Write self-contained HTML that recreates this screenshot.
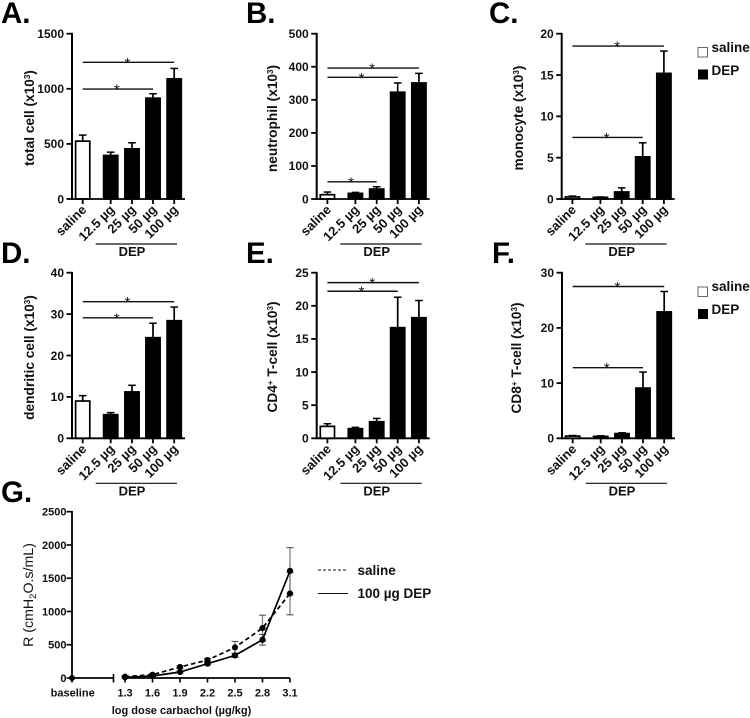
<!DOCTYPE html>
<html>
<head>
<meta charset="utf-8">
<title>DEP dose response panels</title>
<style>
html,body{margin:0;padding:0;background:#fff;}
svg{display:block;}
text{font-family:"Liberation Sans",Arial,sans-serif;fill:#111;}
.tick{font-size:12px;font-weight:bold;}
.xlab{font-size:13px;font-weight:bold;}
.leg{font-size:13.5px;font-weight:bold;}
.title{font-size:13.7px;font-weight:bold;}
.letter{font-size:29.5px;font-weight:bold;fill:#000;}
.g{font-size:11px;font-weight:bold;}
</style>
</head>
<body>
<svg id="chart" xmlns="http://www.w3.org/2000/svg" width="750" height="718" viewBox="0 0 750 718">
<rect width="750" height="718" fill="#fff"/>
<text class="letter" x="1" y="23">A.</text>
<text class="letter" x="246" y="23">B.</text>
<text class="letter" x="489" y="23">C.</text>
<text class="letter" x="1" y="263">D.</text>
<text class="letter" x="246" y="263">E.</text>
<text class="letter" x="492" y="263">F.</text>
<text class="letter" x="1" y="502">G.</text>
<g>
<rect x="698" y="47.5" width="9.5" height="9.5" fill="#fff" stroke="#666" stroke-width="1"/>
<text class="leg" x="711.5" y="52">saline</text>
<rect x="698" y="69.5" width="10" height="10" fill="#000"/>
<text class="leg" x="711.5" y="75">DEP</text>
</g>
<g>
<rect x="698" y="287" width="9.5" height="9.5" fill="#fff" stroke="#666" stroke-width="1"/>
<text class="leg" x="711.5" y="291">saline</text>
<rect x="698" y="309" width="10" height="10" fill="#000"/>
<text class="leg" x="711.5" y="314">DEP</text>
</g>
<g>
<line x1="318" x2="348" y1="570" y2="570" stroke="#111" stroke-width="1" stroke-dasharray="3 2"/>
<text class="leg" x="357.5" y="575">saline</text>
<line x1="318" x2="348" y1="593.5" y2="593.5" stroke="#111" stroke-width="1"/>
<text class="leg" x="357.5" y="598">100 µg DEP</text>
</g>
</svg>
<script>
const categories = ['saline', '12.5 µg', '25 µg', '50 µg', '100 µg'];

const ticksA = [0, 500, 1000, 1500];
const valuesA = [525, 395, 455, 915, 1090];
const errorsA = [55, 30, 55, 40, 95];
const sigFromA = [0, 0];
const sigToA = [4, 3];
const sigLevelA = [1240, 998];

const ticksB = [0, 100, 200, 300, 400, 500];
const valuesB = [13, 17, 30, 323, 351];
const errorsB = [8, 3, 7, 28, 29];
const sigFromB = [0, 0, 0];
const sigToB = [4, 3, 2];
const sigLevelB = [396, 368, 52];

const ticksC = [0, 5, 10, 15, 20];
const valuesC = [0.25, 0.2, 0.85, 5.1, 15.2];
const errorsC = [0.1, 0.05, 0.5, 1.7, 2.7];
const sigFromC = [0, 0];
const sigToC = [4, 3];
const sigLevelC = [18.5, 7.45];

const ticksD = [0, 10, 20, 30, 40];
const valuesD = [9, 5.7, 11.2, 24.3, 28.4];
const errorsD = [1.3, 0.5, 1.6, 3.5, 3.3];
const sigFromD = [0, 0];
const sigToD = [4, 3];
const sigLevelD = [33, 29.1];

const ticksE = [0, 5, 10, 15, 20, 25];
const valuesE = [1.8, 1.45, 2.5, 16.7, 18.2];
const errorsE = [0.4, 0.2, 0.5, 4.6, 2.6];
const sigFromE = [0, 0];
const sigToE = [4, 3];
const sigLevelE = [23.5, 22.2];

const ticksF = [0, 10, 20, 30];
const valuesF = [0.4, 0.35, 0.85, 9.1, 22.9];
const errorsF = [0.1, 0.1, 0.15, 2.9, 3.7];
const sigFromF = [0, 0];
const sigToF = [4, 3];
const sigLevelF = [27.5, 12.8];

const doseLabels = ['1.3', '1.6', '1.9', '2.2', '2.5', '2.8', '3.1'];
const doses = [1.3, 1.6, 1.9, 2.2, 2.5, 2.8, 3.1];
const ticksG = [0, 500, 1000, 1500, 2000, 2500];
const salineResistance = [20, 50, 165, 270, 460, 750, 1270];
const salineResistanceError = [10, 15, 20, 25, 90, 195, 320];
const depResistance = [10, 30, 90, 215, 340, 575, 1610];
const depResistanceError = [8, 10, 15, 20, 30, 80, 350];
const baselineResistance = 0;

const svg = document.getElementById('chart');
const NS = 'http://www.w3.org/2000/svg';

function make(tag, parent, props) {
  const el = document.createElementNS(NS, tag);
  for (const k in props) el.setAttribute(k, props[k]);
  parent.appendChild(el);
  return el;
}

function drawBarPanel(key, axisX, topY, bottomY, titleX, titleY, titleHtml, ticks, values, errors, sigFrom, sigTo, sigLevel) {
  const panel = make('g', svg, {});
  
  

  const maxV = ticks[ticks.length - 1];
  const yScale = v => bottomY - (v / maxV) * (bottomY - topY);
  const offsets = [10.7, 38.7, 60, 81, 102.2];
  const xScale = i => axisX + offsets[i];
  const axisEnd = axisX + 113;

  ticks.forEach(t => {
    const tk = make('line', panel, {x1: axisX - 5.5, x2: axisX, y1: yScale(t), y2: yScale(t), stroke: '#000', 'stroke-width': 1.8});
    
    
    const lb = make('text', panel, {x: axisX - 8, y: yScale(t) + 4.3, 'text-anchor': 'end', class: 'tick'});
    
    
    lb.textContent = t;
  });

  values.forEach((v, i) => {
    const cx = xScale(i);
    const e = make('line', panel, {x1: cx, x2: cx, y1: yScale(v), y2: yScale(v + errors[i]), stroke: '#000', 'stroke-width': 1.7});
    
    
    const cap = make('line', panel, {x1: cx - 3.8, x2: cx + 3.8, y1: yScale(v + errors[i]), y2: yScale(v + errors[i]), stroke: '#000', 'stroke-width': 1.5});
    
    
    const isSaline = i === 0;
    const bar = make('rect', panel, {
      x: cx - 7.1, y: yScale(v), width: 14.2, height: bottomY - yScale(v),
      fill: isSaline ? '#fff' : '#000', stroke: '#000', 'stroke-width': 1.7
    });
    
    
    const xt = make('line', panel, {x1: cx, x2: cx, y1: bottomY, y2: bottomY + 5, stroke: '#000', 'stroke-width': 1.8});
    
    
    const px = cx + 4.5, py = bottomY + 11.5;
    const xl = make('text', panel, {x: px, y: py, 'text-anchor': 'end', class: 'xlab', transform: 'rotate(-45 ' + px + ' ' + py + ')'});
    
    
    xl.textContent = categories[i];
  });

  const yAxis = make('line', panel, {x1: axisX, x2: axisX, y1: topY - 0.8, y2: bottomY + 1, stroke: '#000', 'stroke-width': 2});
  
  
  const xAxis = make('line', panel, {x1: axisX, x2: axisEnd, y1: bottomY, y2: bottomY, stroke: '#000', 'stroke-width': 1.8});
  
  

  sigLevel.forEach((lv, i) => {
    const x1 = xScale(sigFrom[i]);
    const x2 = xScale(sigTo[i]);
    const y = yScale(lv);
    const ln = make('line', panel, {x1: x1, x2: x2, y1: y, y2: y, stroke: '#111', 'stroke-width': 1.4});
    
    
    const st = make('text', panel, {x: (x1 + x2) / 2 - 1, y: y + 5.5, 'text-anchor': 'middle', style: 'font-size:15px'});
    
    
    st.textContent = '*';
  });

  const groupLine = make('line', panel, {x1: axisX + 23.7, x2: axisX + 105, y1: bottomY + 45, y2: bottomY + 45, stroke: '#111', 'stroke-width': 1.2});
  
  
  const groupText = make('text', panel, {x: axisX + 60, y: bottomY + 57, 'text-anchor': 'middle', class: 'xlab'});
  
  
  groupText.textContent = 'DEP';

  const title = make('text', panel, {x: titleX, y: titleY, 'text-anchor': 'middle', class: 'title', transform: 'rotate(-90 ' + titleX + ' ' + titleY + ')'});
  
  
  title.innerHTML = titleHtml;
}

const sup3 = '<tspan dy="-4" font-size="8">3</tspan><tspan dy="4">)</tspan>';
drawBarPanel('a', 72, 33.7, 199, 34, 118, 'total cell (x10' + sup3, ticksA, valuesA, errorsA, sigFromA, sigToA, sigLevelA);
drawBarPanel('b', 316.7, 33.7, 199, 277, 118.5, 'neutrophil (x10' + sup3, ticksB, valuesB, errorsB, sigFromB, sigToB, sigLevelB);
drawBarPanel('c', 561.7, 33.7, 199, 523, 118, 'monocyte (x10' + sup3, ticksC, valuesC, errorsC, sigFromC, sigToC, sigLevelC);
drawBarPanel('d', 72, 272.7, 438.3, 34, 357.5, 'dendritic cell (x10' + sup3, ticksD, valuesD, errorsD, sigFromD, sigToD, sigLevelD);
drawBarPanel('e', 316.7, 272.7, 438.3, 277, 357, 'CD4<tspan dy="-4" font-size="8">+</tspan><tspan dy="4"> T-cell (x10</tspan>' + sup3, ticksE, valuesE, errorsE, sigFromE, sigToE, sigLevelE);
drawBarPanel('f', 562, 272.7, 438.3, 521, 358, 'CD8<tspan dy="-4" font-size="8">+</tspan><tspan dy="4"> T-cell (x10</tspan>' + sup3, ticksF, valuesF, errorsF, sigFromF, sigToF, sigLevelF);

(function drawAirwayPanel() {
  const axisX = 72, topY = 511.7, bottomY = 678;
  const panel = make('g', svg, {});
  
  

  const maxV = ticksG[ticksG.length - 1];
  const yScale = v => bottomY - (v / maxV) * (bottomY - topY);
  const xScale = d => 125 + (d - 1.3) / 0.3 * 27.5;

  ticksG.forEach(t => {
    const tk = make('line', panel, {x1: axisX - 5.5, x2: axisX, y1: yScale(t), y2: yScale(t), stroke: '#000', 'stroke-width': 1.6});
    
    
    const lb = make('text', panel, {x: axisX - 5.5, y: yScale(t) + 4, 'text-anchor': 'end', class: 'g'});
    
    
    lb.textContent = t;
  });

  const yAxis = make('line', panel, {x1: axisX, x2: axisX, y1: topY - 0.8, y2: bottomY + 1, stroke: '#000', 'stroke-width': 1.8});
  
  
  const xAxisBase = make('line', panel, {x1: axisX, x2: 114, y1: bottomY, y2: bottomY, stroke: '#000', 'stroke-width': 1.8});
  
  
  const xAxisDose = make('line', panel, {x1: xScale(doses[0]) - 1, x2: xScale(doses[doses.length - 1]), y1: bottomY, y2: bottomY, stroke: '#000', 'stroke-width': 1.8});
  
  
  const breakTick = make('line', panel, {x1: 113.5, x2: 113.5, y1: bottomY - 4, y2: bottomY + 4.5, stroke: '#000', 'stroke-width': 1.6});
  
  
  const baseTick = make('line', panel, {x1: axisX, x2: axisX, y1: bottomY, y2: bottomY + 4.5, stroke: '#000', 'stroke-width': 1.6});
  
  
  const baseLabel = make('text', panel, {x: 72.7, y: 696.5, 'text-anchor': 'middle', class: 'g'});
  
  
  baseLabel.textContent = 'baseline';

  doses.forEach((d, i) => {
    const cx = xScale(d);
    const tk = make('line', panel, {x1: cx, x2: cx, y1: bottomY, y2: bottomY + 4.5, stroke: '#000', 'stroke-width': 1.6});
    
    
    const lb = make('text', panel, {x: cx, y: 696.5, 'text-anchor': 'middle', class: 'g'});
    
    
    lb.textContent = doseLabels[i];
  });

  function whiskers(values, errors, seriesName) {
    values.forEach((v, i) => {
      const cx = xScale(doses[i]);
      const hi = yScale(v + errors[i]);
      const lo = yScale(v - errors[i]);
      const w = make('line', panel, {x1: cx, x2: cx, y1: hi, y2: lo, stroke: '#777', 'stroke-width': 1.2});
      
      
      const c1 = make('line', panel, {x1: cx - 3.5, x2: cx + 3.5, y1: hi, y2: hi, stroke: '#444', 'stroke-width': 1});
      
      
      const c2 = make('line', panel, {x1: cx - 3.5, x2: cx + 3.5, y1: lo, y2: lo, stroke: '#444', 'stroke-width': 1});
      
      
    });
  }
  whiskers(salineResistance, salineResistanceError, 'saline');
  whiskers(depResistance, depResistanceError, 'dep');

  function series(values, seriesName, dash) {
    const pts = values.map((v, i) => xScale(doses[i]) + ',' + yScale(v)).join(' ');
    const line = make('polyline', panel, {points: pts, fill: 'none', stroke: '#000', 'stroke-width': 1.7});
    
    
    if (dash) line.setAttribute('stroke-dasharray', dash);
    values.forEach((v, i) => {
      const dot = make('circle', panel, {cx: xScale(doses[i]), cy: yScale(v), r: 3.1, fill: '#000'});
      
      
    });
  }
  series(salineResistance, 'saline', '4.5 3');
  series(depResistance, 'dep', null);

  const baseDot = make('circle', panel, {cx: axisX, cy: yScale(baselineResistance), r: 3, fill: '#000'});
  
  

  const xTitle = make('text', panel, {x: 181.5, y: 714, 'text-anchor': 'middle', class: 'g'});
  
  
  xTitle.textContent = 'log dose carbachol (µg/kg)';

  const yTitle = make('text', panel, {x: 33, y: 595, 'text-anchor': 'middle', transform: 'rotate(-90 33 595)', style: 'font-size:14.2px'});
  
  
  yTitle.innerHTML = 'R (cmH<tspan dy="3" font-size="9.5">2</tspan><tspan dy="-3">O.s/mL)</tspan>';
})();
</script>
</body>
</html>
